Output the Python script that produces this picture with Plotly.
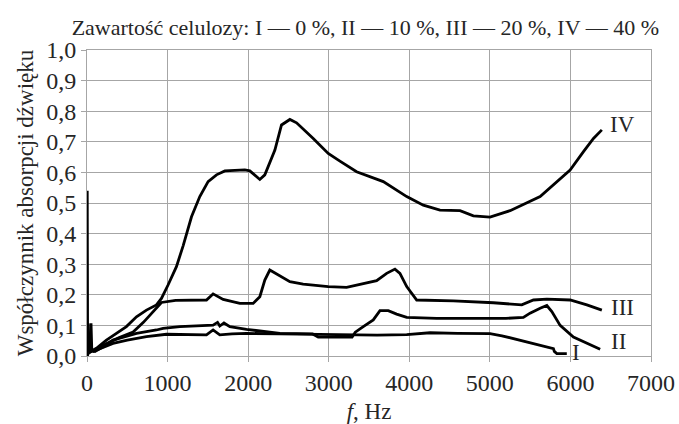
import plotly.graph_objects as go

# Curve data (frequency in Hz, absorption coefficient)
f_I = [0, 10, 20, 30, 50, 80, 120, 200, 323, 500, 738, 986, 1200, 1483, 1565, 1648, 1800,
       1980, 2394, 2800, 3263, 3600, 3968, 4257, 4600, 5002, 5150, 5292, 5450, 5624, 5789,
       5800, 5831, 5955]
a_I = [0.0, 0.03, 0.01, 0.06, 0.02, 0.015, 0.02, 0.028, 0.041, 0.052, 0.063, 0.071, 0.070,
       0.069, 0.085, 0.069, 0.072, 0.074, 0.072, 0.070, 0.068, 0.068, 0.070, 0.076, 0.074,
       0.073, 0.066, 0.057, 0.048, 0.037, 0.024, 0.015, 0.008, 0.008]

f_II = [0, 15, 30, 60, 100, 200, 323, 450, 614, 862, 944, 1152, 1359, 1565, 1620, 1648,
        1700, 1773, 1980, 2394, 2800, 2870, 3290, 3330, 3429, 3553, 3636, 3739, 3843, 3968,
        4340, 4754, 5200, 5416, 5499, 5624, 5707, 5769, 5872, 6037, 6204, 6369]
a_II = [0.0, 0.106, 0.01, 0.02, 0.015, 0.03, 0.052, 0.062, 0.074, 0.085, 0.090, 0.096,
        0.099, 0.101, 0.110, 0.098, 0.108, 0.096, 0.087, 0.074, 0.072, 0.062, 0.062, 0.078,
        0.096, 0.118, 0.148, 0.148, 0.137, 0.126, 0.123, 0.123, 0.123, 0.126, 0.140, 0.156,
        0.165, 0.145, 0.100, 0.062, 0.041, 0.022]

f_III = [0, 40, 50, 60, 100, 200, 400, 572, 700, 800, 862, 924, 1100, 1300, 1483, 1565,
         1690, 1897, 2062, 2145, 2207, 2269, 2394, 2518, 2683, 2994, 3222, 3429, 3595, 3719,
         3822, 3884, 3968, 4092, 4547, 5044, 5396, 5541, 5707, 5996, 6204, 6390]
a_III = [0.0, 0.02, 0.107, 0.015, 0.02, 0.035, 0.060, 0.078, 0.110, 0.140, 0.155, 0.175,
         0.182, 0.183, 0.183, 0.203, 0.185, 0.172, 0.172, 0.194, 0.248, 0.281, 0.262, 0.243,
         0.235, 0.227, 0.224, 0.237, 0.246, 0.270, 0.284, 0.270, 0.227, 0.183, 0.180, 0.174,
         0.167, 0.183, 0.186, 0.183, 0.167, 0.150]

f_IV = [0, 3, 8, 117, 241, 365, 489, 614, 738, 862, 924, 1006, 1110, 1193, 1297, 1400, 1503,
        1607, 1711, 1959, 2021, 2145, 2207, 2332, 2414, 2518, 2601, 2808, 2994, 3139, 3346,
        3677, 3968, 4174, 4381, 4630, 4795, 5002, 5251, 5624, 5831, 5996, 6162, 6286, 6390]
a_IV = [0.0, 0.54, 0.01, 0.025, 0.052, 0.074, 0.096, 0.128, 0.150, 0.167, 0.188, 0.232,
        0.292, 0.360, 0.455, 0.521, 0.570, 0.592, 0.605, 0.608, 0.605, 0.577, 0.592, 0.673,
        0.755, 0.773, 0.762, 0.711, 0.662, 0.637, 0.602, 0.570, 0.521, 0.493, 0.477, 0.475,
        0.458, 0.454, 0.475, 0.521, 0.570, 0.608, 0.668, 0.711, 0.739]

curve_names = ["I", "II", "III", "IV"]
# where each roman label sits (x, y in data units)
label_x = [5990, 6480, 6480, 6470]
label_y = [0.013, 0.046, 0.160, 0.755]

title = "Zawartość celulozy: I — 0 %, II — 10 %, III — 20 %, IV — 40 %"
serif = "Liberation Serif"
ink = "#262626"
grid = "#a6a6a6"

fig = go.Figure()
for fx, ay, name in zip([f_I, f_II, f_III, f_IV], [a_I, a_II, a_III, a_IV], curve_names):
    fig.add_trace(go.Scatter(x=fx, y=ay, mode="lines", name=name,
                             line=dict(color="black", width=2.8)))

for name, lx, ly in zip(curve_names, label_x, label_y):
    fig.add_annotation(x=lx, y=ly, text=name, showarrow=False, xanchor="left",
                       yanchor="middle", font=dict(family=serif, size=23, color=ink))

fig.update_layout(
    width=679, height=424,
    margin=dict(l=87, r=28, t=50, b=68),
    paper_bgcolor="white", plot_bgcolor="white",
    showlegend=False,
    separators=", ",
    font=dict(family=serif, color=ink),
    title=dict(text=title, x=0.538, xanchor="center", y=0.936, yanchor="middle",
               font=dict(family=serif, size=22, color=ink)),
)
fig.update_xaxes(
    range=[0, 7000], dtick=1000, tickformat="d", automargin=False,
    showgrid=True, gridcolor=grid, gridwidth=1,
    showline=True, linecolor=grid, linewidth=1, mirror=True,
    ticks="outside", ticklen=5, tickcolor=grid,
    zeroline=False,
    tickfont=dict(family=serif, size=24, color=ink),
    title=dict(text="<i>f</i>, Hz", font=dict(family=serif, size=23, color=ink),
               standoff=8),
)
fig.update_yaxes(
    range=[0, 1.0], dtick=0.1, tickformat=".1f", automargin=False,
    showgrid=True, gridcolor=grid, gridwidth=1,
    showline=True, linecolor=grid, linewidth=1, mirror=True,
    ticks="outside", ticklen=5, tickcolor=grid,
    zeroline=False,
    tickfont=dict(family=serif, size=24, color=ink),
    title=dict(text="Współczynnik absorpcji dźwięku",
               font=dict(family=serif, size=23, color=ink), standoff=6),
)

# drop the default page margin so the figure fills the window exactly
fig.write_html("out.html", config={"displayModeBar": False},
               post_script="document.body.style.margin='0';")
